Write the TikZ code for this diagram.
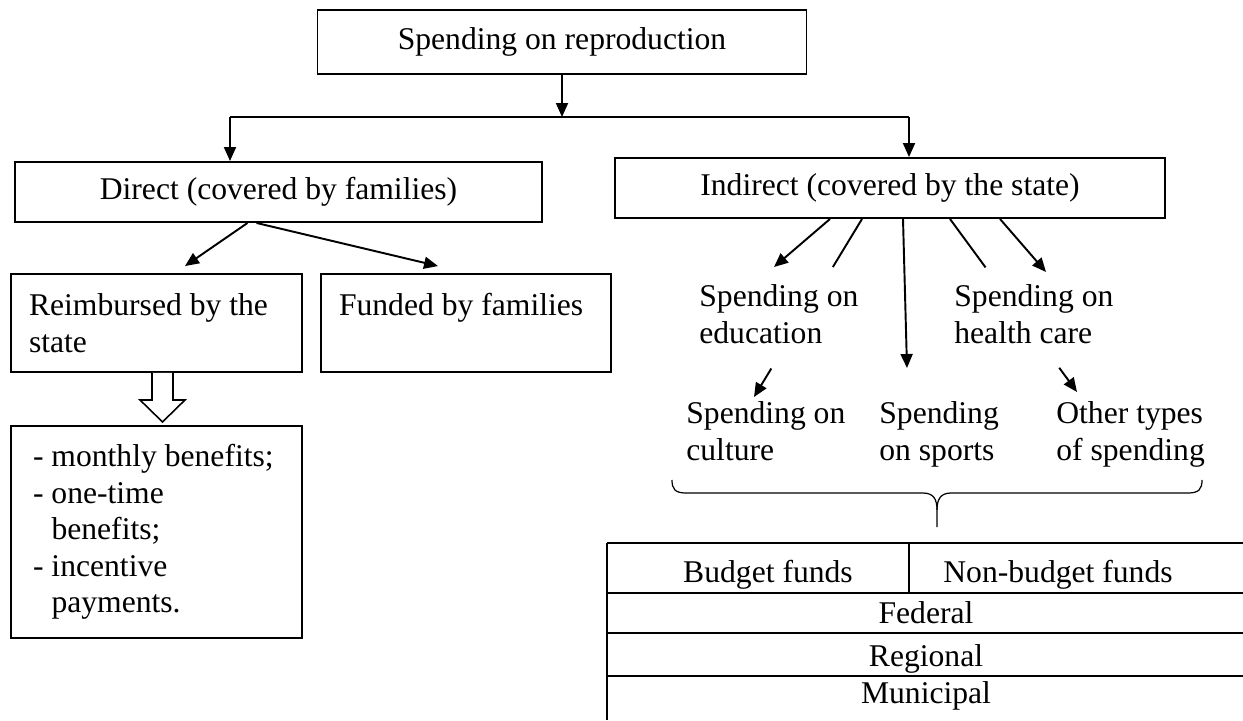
\documentclass[tikz,border=0pt]{standalone}
\usepackage{fontspec}
\setmainfont{Liberation Serif}
\usetikzlibrary{arrows.meta,calc}

\begin{document}
\begin{tikzpicture}[
  x=0.02cm, y=-0.02cm,
  catbox/.style={draw, line width=1.1pt, align=center, inner sep=0pt, font=\fontsize{18}{20.8}\selectfont},
  headbox/.style={catbox, line width=0.6pt},
  leftbox/.style={draw, line width=1.1pt, align=flush left, inner ysep=0pt, font=\fontsize{18}{20.8}\selectfont},
  itemtext/.style={align=left, anchor=base west, inner sep=0pt, font=\fontsize{18}{20.8}\selectfont},
  cell/.style={anchor=base, inner sep=0pt, font=\fontsize{18}{20.8}\selectfont},
  flow/.style={-{Triangle[length=0.28cm,width=0.24cm]}, line width=1.1pt},
  hollow/.style={line width=0.9pt, fill=white, line join=miter},
  rule/.style={line width=0.7pt}
]
\useasboundingbox (0,0) rectangle (1243,720);

\node[headbox, minimum width=9.8cm, minimum height=1.28cm] (top) at (562,42) {Spending on reproduction};
\node[catbox, minimum width=10.54cm, minimum height=1.2cm] (direct) at (278.5,192) {Direct (covered by families)};
\node[catbox, minimum width=11cm, minimum height=1.2cm] (indirect) at (890,188) {Indirect (covered by the state)};

\node[leftbox, text width=5.1cm, inner xsep=0.36cm, minimum height=1.96cm] (reimb) at (156.5,323) {Reimbursed by the\\state};
\node[leftbox, text width=5.08cm, inner xsep=0.36cm, minimum height=1.96cm] (funded) at (466,323) {Funded by families\\\mbox{}};
\node[leftbox, text width=4.94cm, inner xsep=0.44cm, minimum height=4.24cm] (list) at (156.5,532)
  {- monthly benefits;\\- one-time\\\hspace*{0.37cm}benefits;\\- incentive\\\hspace*{0.37cm}payments.};

% base is the baseline of the last line
\node[itemtext] (edu) at (699,343) {Spending on\\education};
\node[itemtext] (health) at (954,343) {Spending on\\health care};
\node[itemtext] (culture) at (686,460) {Spending on\\culture};
\node[itemtext] (sports) at (879,460) {Spending\\on sports};
\node[itemtext] (other) at (1056,460) {Other types\\of spending};

% split under the top box
\coordinate (forkL) at (230,117);
\coordinate (forkR) at (909,117);
\draw[flow] (top.south) -- (top.south |- forkL);
\draw[line width=0.8pt] (forkL) -- (forkR);
\draw[flow] (forkL) -- (forkL |- direct.north);
\draw[flow] (forkR) -- (forkR |- indirect.north);

% direct branch
\draw[flow] ([xshift=-0.62cm]direct.south) -- ([xshift=0.57cm,yshift=0.14cm]reimb.north);
\draw[flow] ([xshift=-0.44cm]direct.south) -- ([xshift=-0.56cm,yshift=0.14cm]funded.north);
\coordinate (dn) at ([xshift=0.12cm]reimb.south);
\draw[hollow] ($(dn)+(-10.5,0)$) -- ++(0,27) -- ++(-12,0) -- ($(dn)+(0,49)$) -- ++(22.5,-22) -- ++(-12,0) -- ($(dn)+(10.5,0)$);

% indirect branch
\draw[flow] ([xshift=-1.2cm]indirect.south) -- ($(edu.base west)+(75,-76)$);
\coordinate (cs) at ([xshift=-0.56cm]indirect.south);
\coordinate (ce) at ($(culture.base west)+(68,-63)$);
\draw[line width=1.1pt] (cs) -- ($(cs)!0.27!(ce)$);
\draw[flow] ($(cs)!0.84!(ce)$) -- (ce);
\draw[flow] ([xshift=0.26cm]indirect.south) -- ($(sports.base west)+(28,-92)$);
\coordinate (os) at ([xshift=1.2cm]indirect.south);
\coordinate (oe) at ($(other.base west)+(21,-68)$);
\draw[line width=1.1pt] (os) -- ($(os)!0.28!(oe)$);
\draw[flow] ($(os)!0.86!(oe)$) -- (oe);
\draw[flow] ([xshift=2.2cm]indirect.south) -- ($(health.base west)+(92,-71)$);

% brace
\coordinate (brL) at (672,480);
\coordinate (brR) at (1202,480);
\coordinate (brTip) at (937,527);
\draw[rule] (brL) .. controls (672,489) and (675,493) .. (686,493) -- (923,493)
  .. controls (934,493) and (937,500) .. (937,510) -- (brTip);
\draw[rule] (937,510) .. controls (937,500) and (940,493) .. (951,493) -- (1188,493)
  .. controls (1199,493) and (1202,489) .. (brR);

% funding table
\foreach \yy in {543,593,633,676}
  \draw[rule] (607,\yy) -- (1243,\yy);
\draw[rule] (607,543) -- (607,720);
\draw[rule] (909,543) -- (909,593);
\node[cell] (budget) at (768,582) {Budget funds};
\node[cell] (nonbudget) at (1058,582) {Non-budget funds};
\node[cell] (federal) at (926,623) {Federal};
\node[cell] (regional) at (926,666) {Regional};
\node[cell] (municipal) at (926,703) {Municipal};
\end{tikzpicture}
\end{document}
